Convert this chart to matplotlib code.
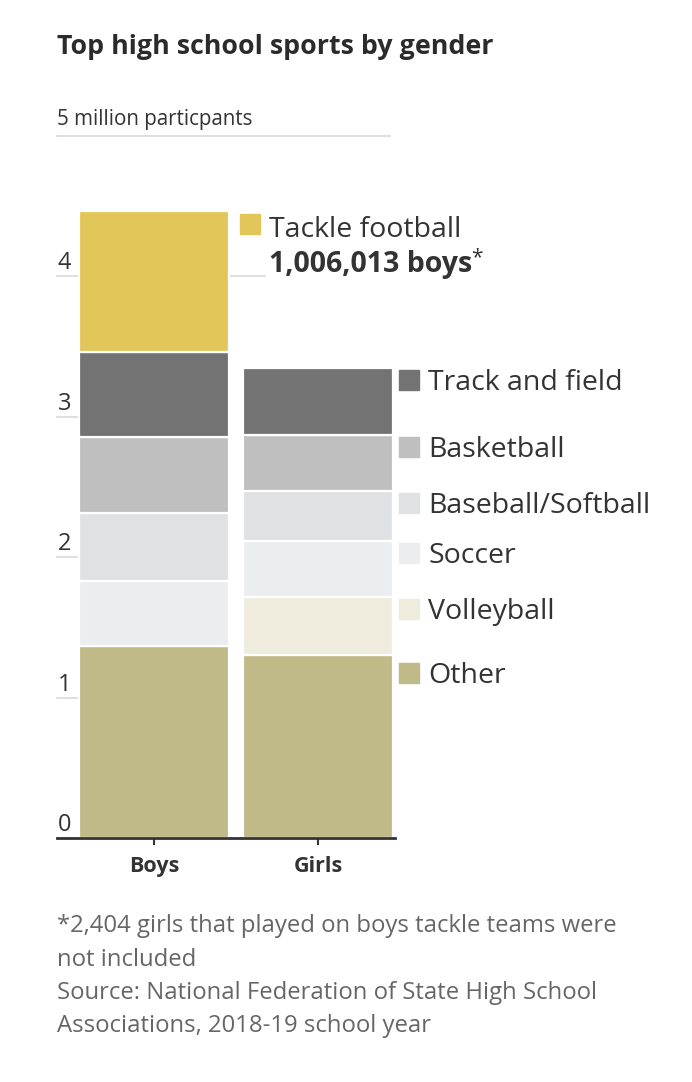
import matplotlib
matplotlib.use("Agg")
import matplotlib.pyplot as plt
from matplotlib.patches import Rectangle

plt.rcParams['font.family'] = ['Open Sans', 'DejaVu Sans']

# ---- data (million participants) ----
groups = ["Boys", "Girls"]
sports = ["Other", "Volleyball", "Soccer", "Baseball/Softball", "Basketball", "Track and field", "Tackle football"]
boys_values = [1.364, 0.0, 0.468, 0.482, 0.539, 0.606, 1.006]
girls_values = [1.302, 0.411, 0.399, 0.361, 0.397, 0.480, 0.0]
colors = ["#bfba88", "#efecdd", "#ecedef", "#e0e1e3", "#bfbfbf", "#737373", "#e3c65a"]
yticks = [0, 1, 2, 3, 4]
ymax = 5

W, H = 692, 1082
fig = plt.figure(figsize=(W / 100, H / 100), dpi=100)

def fx(px):
    return px / W

def fy(py):
    return 1 - py / H

ax_left, ax_right, ax_top, ax_bot = 57, 395, 136, 838
ax = fig.add_axes([fx(ax_left), fy(ax_bot), fx(ax_right - ax_left), (ax_bot - ax_top) / H])

centers = [0, 1]
pxu = 164.0
bw = 150 / pxu
ax.set_xlim(-(154 - ax_left) / pxu, 1 + (ax_right - 318) / pxu)
ax.set_ylim(0, ymax)

for gi, vals in enumerate([boys_values, girls_values]):
    bottom = 0
    for si, v in enumerate(vals):
        if v > 0:
            ax.bar(centers[gi], v, width=bw, bottom=bottom, color=colors[si],
                   edgecolor="white", linewidth=1.6, zorder=3)
        bottom += v

# axes styling
for s in ["top", "right", "left"]:
    ax.spines[s].set_visible(False)
ax.spines["bottom"].set_color("#333333")
ax.spines["bottom"].set_linewidth(2)
ax.spines["bottom"].set_zorder(5)
ax.set_yticks([])
ax.set_xticks(centers)
ax.set_xticklabels(groups, fontsize=15.5, fontweight="bold", color="#333333")
ax.tick_params(axis="x", length=5, width=1.5, color="#333333", pad=8)

ypx = (ax_bot - ax_top) / ymax
xl = ax.get_xlim()[0]
# y gridline stubs and labels
for t in yticks:
    ax.plot([xl, centers[0] - bw / 2], [t, t], color="#d9d9d9", lw=1.2, zorder=1, clip_on=False)
    ax.text(xl + 1 / pxu, t + 1 / ypx, str(t), fontsize=17, color="#333333",
            ha="left", va="bottom", zorder=4)
# top line with unit label
ax.plot([xl, ax.get_xlim()[1] - 5 / pxu], [ymax, ymax], color="#d9d9d9", lw=1.2, clip_on=False)
ax.text(xl, ymax + 6 / ypx, "5 million particpants", fontsize=14.8, color="#333333",
        ha="left", va="bottom")

# leader line for football
ax.plot([centers[0] + bw / 2, centers[0] + bw / 2 + 36 / pxu], [4, 4], color="#d9d9d9", lw=1.2, zorder=1, clip_on=False)

sq_w = 20 / pxu
sq_h = 20 / ypx
lab_fs = 20.5

# football legend
boys_top = sum(boys_values)
fx0 = centers[0] + bw / 2 + 11 / pxu
ax.add_patch(Rectangle((fx0, boys_top - 2.5 / ypx - sq_h), sq_w, sq_h, color=colors[6], clip_on=False))
ax.text(fx0 + 29 / pxu, boys_top - 19 / ypx, "Tackle football", fontsize=lab_fs, color="#333333",
        ha="left", va="center")
t1 = ax.text(fx0 + 29 / pxu, boys_top - 53 / ypx, "1,006,013 boys", fontsize=lab_fs, color="#333333",
             fontweight="bold", ha="left", va="center")
fig.canvas.draw()
bb = t1.get_window_extent()
inv = ax.transData.inverted()
xend = inv.transform((bb.x1, bb.y1))[0]
ax.text(xend - 1 / pxu, boys_top - 47 / ypx, "*", fontsize=15, color="#333333", ha="left", va="center")

# girls legend
gx0 = centers[1] + bw / 2 + 6 / pxu
cum = 0
tops = []
for v in girls_values:
    cum += v
    tops.append(cum)
for si in range(6):
    top = tops[si]
    if si == 0:
        top -= 6 / ypx
    ax.add_patch(Rectangle((gx0, top - 2 / ypx - sq_h), sq_w, sq_h, color=colors[si], clip_on=False))
    ax.text(gx0 + 29 / pxu, top - 15 / ypx, sports[si], fontsize=lab_fs, color="#333333",
            ha="left", va="center")

# title
fig.text(fx(57), fy(47), "Top high school sports by gender", fontsize=19.3, fontweight="bold",
         color="#2b2b2b", ha="left", va="center")

# footnote
notes = ["*2,404 girls that played on boys tackle teams were", "not included",
         "Source: National Federation of State High School", "Associations, 2018-19 school year"]
for i, line in enumerate(notes):
    fig.text(fx(57), fy(926 + i * 33.5), line, fontsize=17.2, color="#666666", ha="left", va="center")

fig.savefig("out.png", dpi=100, facecolor="white")
